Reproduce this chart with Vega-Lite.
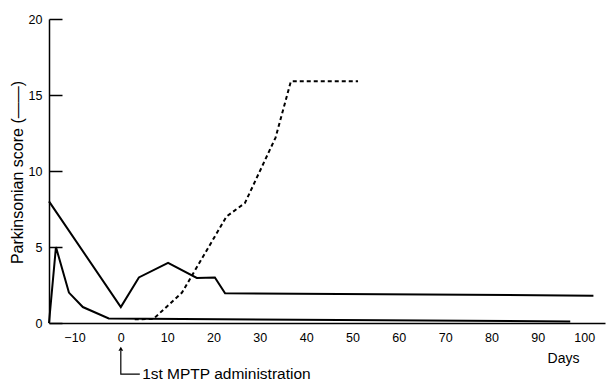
{
  "$schema": "https://vega.github.io/schema/vega-lite/v6.json",
  "width": 556,
  "height": 304,
  "autosize": "none",
  "padding": {"left": 49, "top": 19, "right": 1, "bottom": 60},
  "background": "white",
  "config": {
    "view": {"stroke": null},
    "font": "Liberation Sans",
    "axis": {"domainColor": "black", "tickColor": "black", "labelColor": "black", "titleColor": "black", "grid": false, "labelFont": "Liberation Sans", "titleFont": "Liberation Sans", "titleFontWeight": "normal"}
  },
  "datasets": {
    "curves": [
      {"series": "A", "day": -15.5, "score": 8.0},
      {"series": "A", "day": 0, "score": 1.05},
      {"series": "A", "day": 3.9, "score": 3.0},
      {"series": "A", "day": 10.2, "score": 3.95},
      {"series": "A", "day": 16.4, "score": 2.96},
      {"series": "A", "day": 20.3, "score": 3.0},
      {"series": "A", "day": 22.5, "score": 1.95},
      {"series": "A", "day": 102, "score": 1.8},
      {"series": "B", "day": -15.5, "score": 0},
      {"series": "B", "day": -14, "score": 5.0},
      {"series": "B", "day": -11.2, "score": 2.0},
      {"series": "B", "day": -8.2, "score": 1.05},
      {"series": "B", "day": -2.6, "score": 0.3},
      {"series": "B", "day": 97, "score": 0.1}
    ],
    "dashed": [
      {"day": 3, "score": 0.25},
      {"day": 7, "score": 0.26},
      {"day": 13.2, "score": 2.0},
      {"day": 22.8, "score": 7.0},
      {"day": 26.8, "score": 7.9},
      {"day": 33.4, "score": 12.2},
      {"day": 36.7, "score": 15.9},
      {"day": 51.2, "score": 15.9}
    ],
    "arrow": [
      {"part": "v", "day": 0, "score": -1.85},
      {"part": "v", "day": 0, "score": -3.36},
      {"part": "v", "day": 4.1, "score": -3.36}
    ],
    "head": [{"day": 0, "score": -1.7}],
    "note": [{"day": 4.6, "score": -3.68, "label": "1st MPTP administration"}]
  },
  "encoding": {
    "x": {"field": "day", "type": "quantitative", "scale": {"domain": [-15.5, 104.5], "nice": false, "zero": false},
      "axis": {"values": [-10, 0, 10, 20, 30, 40, 50, 60, 70, 80, 90, 100], "ticks": false, "labelPadding": 8, "labelFontSize": 12.5, "domainWidth": 1.5, "title": "Days", "titleFontSize": 14, "titleX": 514, "titleY": 35, "titleAlign": "center", "titleBaseline": "middle", "labelFlush": false}},
    "y": {"field": "score", "type": "quantitative", "scale": {"domain": [0, 20], "nice": false},
      "axis": {"values": [0, 5, 10, 15, 20], "tickSize": -13, "tickWidth": 1.5, "domainWidth": 1.5, "labelPadding": 20, "labelFontSize": 12.5, "title": "Parkinsonian score (——)", "titleFontSize": 16, "titleX": -32, "titleY": 153, "titleAlign": "center", "titleBaseline": "middle", "titleAngle": -90}}
  },
  "layer": [
    {"data": {"name": "curves"}, "mark": {"type": "line", "color": "black", "strokeWidth": 2, "clip": false},
      "encoding": {"detail": {"field": "series"}, "order": {"field": "day", "type": "quantitative"}}},
    {"data": {"name": "dashed"}, "mark": {"type": "line", "color": "black", "strokeWidth": 2, "strokeDash": [4, 3], "clip": false},
      "encoding": {"order": {"field": "day", "type": "quantitative"}}},
    {"data": {"name": "arrow"}, "mark": {"type": "line", "color": "black", "strokeWidth": 1.2, "clip": false},
      "encoding": {"detail": {"field": "part"}, "order": {"field": "day", "type": "quantitative"}}},
    {"data": {"name": "head"}, "mark": {"type": "point", "shape": "triangle-up", "filled": true, "color": "black", "size": 22, "opacity": 1, "clip": false}},
    {"data": {"name": "note"}, "mark": {"type": "text", "align": "left", "baseline": "alphabetic", "fontSize": 15.5, "color": "black", "font": "Liberation Sans"},
      "encoding": {"text": {"field": "label"}}}
  ]
}
